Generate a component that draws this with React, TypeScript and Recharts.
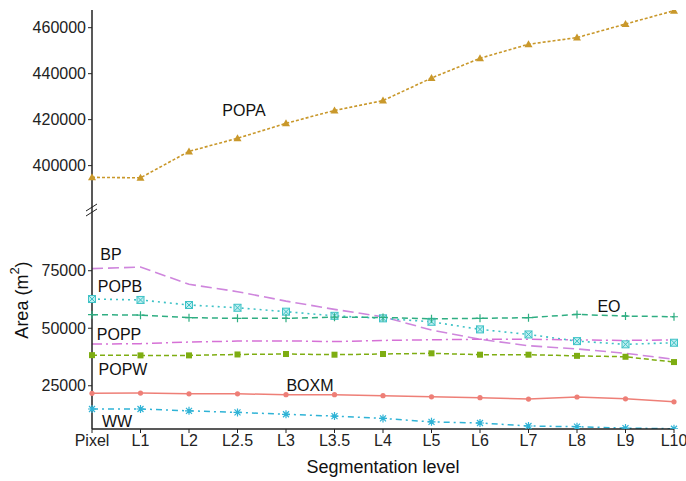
import { LineChart, Line, XAxis, YAxis } from "recharts";

const levels = ["Pixel", "L1", "L2", "L2.5", "L3", "L3.5", "L4", "L5", "L6", "L7", "L8", "L9", "L10"];

const popa = [394900, 394700, 406200, 411900, 418400, 424000, 428300, 438100, 446700, 452800, 455700, 461600, 467400];
const bp = [75900, 76600, 69100, 65900, 61800, 58200, 55000, 49200, 45200, 42400, 41000, 39100, 36500];
const popb = [62700, 62300, 60100, 58900, 57200, 55400, 54300, 52800, 49500, 47300, 44400, 43000, 43700];
const eo = [55900, 55700, 54600, 54300, 54300, 54800, 54700, 54100, 54300, 54600, 56000, 55300, 55000];
const popp = [43100, 43300, 44000, 44400, 44500, 44200, 44700, 45000, 45200, 45200, 44900, 44700, 44900];
const popw = [38300, 38200, 38200, 38600, 38800, 38500, 38800, 39100, 38500, 38500, 38000, 37600, 35300];
const boxm = [21700, 21800, 21500, 21500, 21100, 21100, 20700, 20200, 19800, 19200, 20100, 19300, 18000];
const ww = [14900, 14900, 14100, 13400, 12600, 11800, 10800, 9300, 8800, 7500, 7200, 6600, 6300];

const topTicks = [400000, 420000, 440000, 460000];
const bottomTicks = [25000, 50000, 75000];

const data = levels.map((level, i) => ({
  level,
  POPA: popa[i],
  BP: bp[i],
  POPB: popb[i],
  EO: eo[i],
  POPP: popp[i],
  POPW: popw[i],
  BOXM: boxm[i],
  WW: ww[i],
}));

const FONT = "'Liberation Sans', Arial, sans-serif";
const INK = "#222";

const C = {
  POPA: "#C9982B",
  BP: "#CF86DD",
  POPB: "#3EC2C6",
  EO: "#2FAE82",
  POPP: "#D671D6",
  POPW: "#7EAD12",
  BOXM: "#EE7F77",
  WW: "#2FB3D6",
};

// marker shapes
const tri = (color: string) => (p: any) => (
  <polygon key={p.index} points={`${p.cx},${p.cy - 4} ${p.cx - 4},${p.cy + 3} ${p.cx + 4},${p.cy + 3}`} fill={color} />
);
const boxX = (color: string) => (p: any) => (
  <g key={p.index}>
    <rect x={p.cx - 3.5} y={p.cy - 3.5} width={7} height={7} fill="#bfeef0" stroke={color} strokeWidth={1} />
    <path d={`M${p.cx - 3.5},${p.cy - 3.5}L${p.cx + 3.5},${p.cy + 3.5}M${p.cx + 3.5},${p.cy - 3.5}L${p.cx - 3.5},${p.cy + 3.5}`} stroke={color} strokeWidth={1} />
  </g>
);
const plus = (color: string) => (p: any) => (
  <path key={p.index} d={`M${p.cx - 4},${p.cy}L${p.cx + 4},${p.cy}M${p.cx},${p.cy - 4}L${p.cx},${p.cy + 4}`} stroke={color} strokeWidth={1.2} />
);
const square = (color: string) => (p: any) => (
  <rect key={p.index} x={p.cx - 3} y={p.cy - 3} width={6} height={6} fill={color} />
);
const circle = (color: string) => (p: any) => <circle key={p.index} cx={p.cx} cy={p.cy} r={2.6} fill={color} />;
const star = (color: string) => (p: any) => (
  <path
    key={p.index}
    d={`M${p.cx - 4},${p.cy}L${p.cx + 4},${p.cy}M${p.cx},${p.cy - 4}L${p.cx},${p.cy + 4}M${p.cx - 3},${p.cy - 3}L${p.cx + 3},${p.cy + 3}M${p.cx + 3},${p.cy - 3}L${p.cx - 3},${p.cy + 3}`}
    stroke={color}
    strokeWidth={1.2}
  />
);

const tickStyle = { fill: INK, fontSize: 16, fontFamily: FONT };

const labels = [
  { t: "POPA", x: 244, y: 110 },
  { t: "BP", x: 111, y: 254 },
  { t: "POPB", x: 120, y: 286 },
  { t: "POPP", x: 119, y: 334 },
  { t: "POPW", x: 123, y: 369 },
  { t: "BOXM", x: 310, y: 385 },
  { t: "WW", x: 117, y: 421 },
  { t: "EO", x: 609, y: 306 },
];

export default function App() {
  return (
    <div style={{ position: "absolute", left: 0, top: 0, width: 686, height: 481, background: "#fff", fontFamily: FONT }}>
      <div style={{ position: "absolute", left: 0, top: 0 }}>
        <LineChart width={686} height={210} data={data} margin={{ top: 10, right: 12, bottom: 0, left: 0 }}>
          <XAxis dataKey="level" hide />
          <YAxis
            width={92}
            domain={[380700, 467700]}
            ticks={topTicks}
            allowDataOverflow
            tick={tickStyle}
            tickSize={4}
            tickLine={{ stroke: INK }}
            axisLine={{ stroke: INK, strokeWidth: 1.5 }}
          />
          <Line dataKey="POPA" stroke={C.POPA} strokeWidth={1.6} strokeDasharray="3 2" dot={tri(C.POPA)} isAnimationActive={false} />
        </LineChart>
      </div>
      <div style={{ position: "absolute", left: 0, top: 210 }}>
        <LineChart width={686} height={271} data={data} margin={{ top: 0, right: 12, bottom: 22, left: 0 }}>
          <XAxis
            dataKey="level"
            interval={0}
            height={30}
            tick={tickStyle}
            tickSize={4}
            tickLine={{ stroke: INK }}
            axisLine={{ stroke: INK, strokeWidth: 1.5 }}
          />
          <YAxis
            width={92}
            domain={[6200, 101400]}
            ticks={bottomTicks}
            allowDataOverflow
            tick={tickStyle}
            tickSize={4}
            tickLine={{ stroke: INK }}
            axisLine={{ stroke: INK, strokeWidth: 1.5 }}
          />
          <Line dataKey="BP" stroke={C.BP} strokeWidth={1.6} strokeDasharray="11 5" dot={false} isAnimationActive={false} />
          <Line dataKey="POPB" stroke={C.POPB} strokeWidth={1.6} strokeDasharray="2 4" dot={boxX(C.POPB)} isAnimationActive={false} />
          <Line dataKey="EO" stroke={C.EO} strokeWidth={1.5} strokeDasharray="6 4" dot={plus(C.EO)} isAnimationActive={false} />
          <Line dataKey="POPP" stroke={C.POPP} strokeWidth={1.5} strokeDasharray="10 4 2 4" dot={false} isAnimationActive={false} />
          <Line dataKey="POPW" stroke={C.POPW} strokeWidth={1.5} strokeDasharray="5 3" dot={square(C.POPW)} isAnimationActive={false} />
          <Line dataKey="BOXM" stroke={C.BOXM} strokeWidth={1.5} dot={circle(C.BOXM)} isAnimationActive={false} />
          <Line dataKey="WW" stroke={C.WW} strokeWidth={1.5} strokeDasharray="6 4 2 4" dot={star(C.WW)} isAnimationActive={false} />
        </LineChart>
      </div>
      {/* axis break marks */}
      <svg style={{ position: "absolute", left: 0, top: 0 }} width={686} height={481} pointerEvents="none">
        <path d="M86,211L97,204M86,216L97,209" stroke={INK} strokeWidth={1} fill="none" />
        {labels.map((l) => (
          <text key={l.t} x={l.x} y={l.y} textAnchor="middle" dominantBaseline="central" fontSize={16} fontFamily={FONT} fill="#111">
            {l.t}
          </text>
        ))}
        <text x={383} y={467} textAnchor="middle" dominantBaseline="central" fontSize={18} fontFamily={FONT} fill="#111">
          Segmentation level
        </text>
        <text transform="translate(22,300) rotate(-90)" textAnchor="middle" dominantBaseline="central" fontSize={18} fontFamily={FONT} fill="#111">
          Area (m<tspan baselineShift="super" fontSize={13}>2</tspan>)
        </text>
      </svg>
    </div>
  );
}
